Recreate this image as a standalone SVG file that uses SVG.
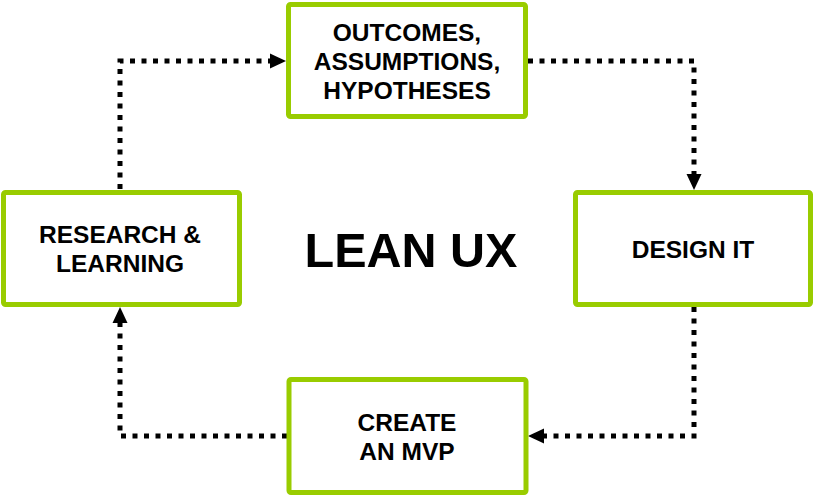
<svg xmlns="http://www.w3.org/2000/svg" width="818" height="500" viewBox="0 0 818 500">
  <style>
    .box { fill: #ffffff; stroke: #99cc00; stroke-width: 5; }
    .lbl { font-family: "Liberation Sans", Arial, sans-serif; font-weight: bold; font-size: 24.5px; fill: #000000; text-anchor: middle; }
    .title { font-family: "Liberation Sans", Arial, sans-serif; font-weight: bold; font-size: 48.5px; fill: #000000; text-anchor: middle; }
    .conn { fill: none; stroke: #000000; stroke-width: 5; stroke-dasharray: 5 6.5; }
  </style>
  <defs>
    <marker id="arrow" markerUnits="userSpaceOnUse" markerWidth="16" markerHeight="16" refX="2" refY="8" orient="auto">
      <path d="M0,0.5 L16,8 L0,15.5 z" fill="#000000"/>
    </marker>
  </defs>
  <rect width="818" height="500" fill="#ffffff"/>
  <g id="connectors">
    <path class="conn" d="M120,189 V61 H272" marker-end="url(#arrow)"/>
    <path class="conn" d="M528,61 H694 V176" marker-end="url(#arrow)"/>
    <path class="conn" d="M694,307 V436 H542" marker-end="url(#arrow)"/>
    <path class="conn" d="M287,436 H120 V321" marker-end="url(#arrow)"/>
  </g>
  <g id="outcomes">
    <rect class="box" x="288.5" y="4.5" width="237" height="112" rx="2"/>
    <text class="lbl" x="407" y="41">OUTCOMES,</text>
    <text class="lbl" x="407" y="70">ASSUMPTIONS,</text>
    <text class="lbl" x="407" y="99">HYPOTHESES</text>
  </g>
  <g id="design">
    <rect class="box" x="575.5" y="192.5" width="235" height="112" rx="2"/>
    <text class="lbl" x="693" y="258">DESIGN IT</text>
  </g>
  <g id="mvp">
    <rect class="box" x="289" y="379.5" width="237" height="113" rx="2"/>
    <text class="lbl" x="407" y="431">CREATE</text>
    <text class="lbl" x="407" y="460">AN MVP</text>
  </g>
  <g id="research">
    <rect class="box" x="3.5" y="192.5" width="236" height="112" rx="2"/>
    <text class="lbl" x="120" y="243">RESEARCH &amp;</text>
    <text class="lbl" x="120" y="272">LEARNING</text>
  </g>
  <g id="title">
    <text class="title" x="411" y="267">LEAN UX</text>
  </g>
</svg>
